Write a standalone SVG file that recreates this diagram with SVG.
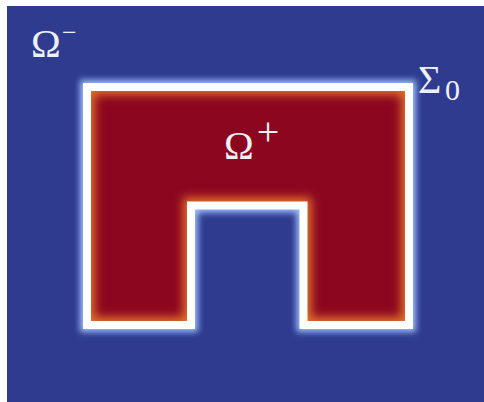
<svg xmlns="http://www.w3.org/2000/svg" width="484" height="402" viewBox="0 0 484 402">
<defs>
<style>
.lbl{font-family:"Liberation Serif","DejaVu Serif",serif;fill:#eef0f8}
</style>
<filter id="b3" x="-20%" y="-20%" width="140%" height="140%"><feGaussianBlur stdDeviation="3"/></filter>
<filter id="b5" x="-20%" y="-20%" width="140%" height="140%"><feGaussianBlur stdDeviation="5"/></filter>
<filter id="b1" x="-20%" y="-20%" width="140%" height="140%"><feGaussianBlur stdDeviation="0.6"/></filter>
<clipPath id="inside"><path d="M87,87 H409 V325 H303.5 V205.5 H191 V325 H87 Z"/></clipPath>
</defs>
<rect x="0" y="0" width="484" height="402" fill="#ffffff"/>
<rect x="7" y="6" width="477" height="396" fill="#2e3b8f"/>
<g id="boundary">
<path d="M87,87 H409 V325 H303.5 V205.5 H191 V325 H87 Z" fill="none" stroke="#9fc0ff" stroke-width="14" filter="url(#b3)"/>
</g>
<g id="omega-plus-region">
<path d="M87,87 H409 V325 H303.5 V205.5 H191 V325 H87 Z" fill="#8c0620"/>
<g clip-path="url(#inside)">
<path d="M87,87 H409 V325 H303.5 V205.5 H191 V325 H87 Z" fill="none" stroke="#e0702c" stroke-width="16" filter="url(#b5)"/>
</g>
</g>
<g id="sigma0">
<path d="M87,87 H409 V325 H303.5 V205.5 H191 V325 H87 Z" fill="none" stroke="#ffffff" stroke-width="8" filter="url(#b1)"/>
</g>
<g id="labels">
<text class="lbl" x="31" y="57" font-size="40">Ω</text>
<text class="lbl" x="62" y="41" font-size="26">−</text>
<text class="lbl" x="418" y="93" font-size="40">Σ</text>
<text class="lbl" x="445" y="100" font-size="30">0</text>
<text class="lbl" x="224" y="159" font-size="40">Ω</text>
<text class="lbl" x="268" y="145" font-size="40" text-anchor="middle">+</text>
</g>
</svg>
